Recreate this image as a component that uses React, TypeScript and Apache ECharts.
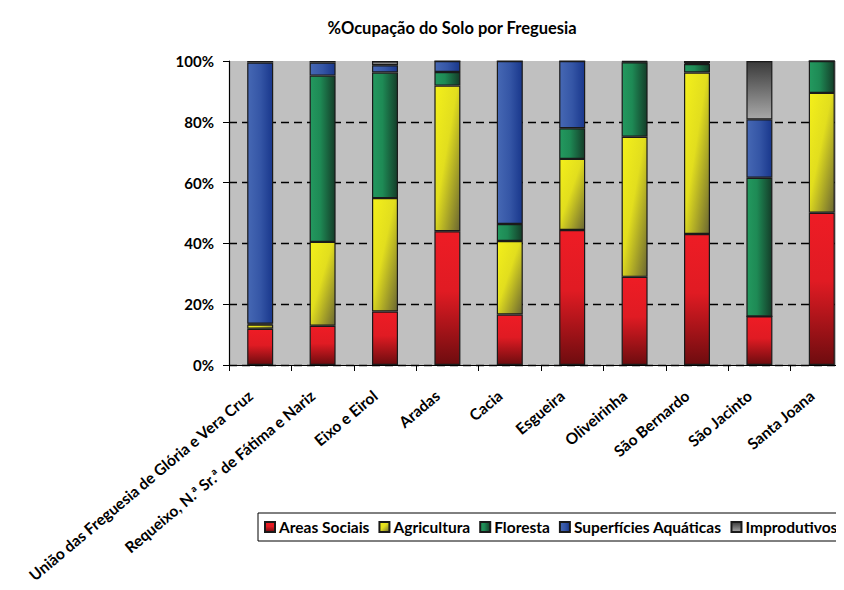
import React, { useEffect, useRef } from "react";
import * as echarts from "echarts";

const categories = [
  "União das Freguesia de Glória e Vera Cruz",
  "Requeixo, N.ª Sr.ª de Fátima e Nariz",
  "Eixo e Eirol",
  "Aradas",
  "Cacia",
  "Esgueira",
  "Oliveirinha",
  "São Bernardo",
  "São Jacinto",
  "Santa Joana",
];

const seriesNames = ["Areas Sociais", "Agricultura", "Floresta", "Superfícies Aquáticas", "Improdutivos"];

const areasSociais = [11.9, 12.9, 17.6, 44.0, 16.6, 44.4, 29.0, 43.1, 16.0, 50.1];
const agricultura = [1.4, 27.6, 37.3, 47.9, 24.2, 23.4, 46.1, 53.1, 0, 39.4];
const floresta = [0.3, 54.7, 41.3, 4.5, 5.6, 10.1, 24.5, 2.8, 45.6, 10.5];
const superficies = [85.9, 4.3, 2.4, 3.6, 53.6, 22.1, 0.2, 0.3, 19.2, 0];
const improdutivos = [0.5, 0.5, 1.4, 0, 0, 0, 0.2, 0.7, 19.2, 0];

const yTicks = [0, 20, 40, 60, 80, 100];

const FONT = "Lato";

export default function App() {
  const ref = useRef<HTMLDivElement>(null);
  useEffect(() => {
    if (!ref.current) return;
    const chart = echarts.init(ref.current, null, { renderer: "svg" });
    const G = echarts.graphic.LinearGradient;
    const fills = [
      new G(0, 0, 0, 1, [
        { offset: 0, color: "#EE1C25" },
        { offset: 0.45, color: "#E01B23" },
        { offset: 1, color: "#6E0C0F" },
      ]),
      new G(0, 0, 1, 1, [
        { offset: 0, color: "#F4F01A" },
        { offset: 0.45, color: "#E2DE1E" },
        { offset: 1, color: "#6A6632" },
      ]),
      new G(0, 0, 1, 0, [
        { offset: 0, color: "#23995F" },
        { offset: 0.4, color: "#1E8A55" },
        { offset: 1, color: "#143D29" },
      ]),
      new G(0, 0, 1, 0, [
        { offset: 0, color: "#4668B4" },
        { offset: 0.5, color: "#3556A6" },
        { offset: 1, color: "#19378C" },
      ]),
      new G(0, 0, 0, 1, [
        { offset: 0, color: "#3A3A3A" },
        { offset: 1, color: "#A8A8A8" },
      ]),
    ];
    const dataSets = [areasSociais, agricultura, floresta, superficies, improdutivos];
    chart.setOption({
      animation: false,
      title: {
        text: "%Ocupação do Solo por Freguesia",
        left: 447,
        textAlign: "center",
        top: 14,
        textStyle: { fontFamily: FONT, fontSize: 16.5, fontWeight: "bold", color: "#000" },
      },
      grid: {
        left: 229,
        right: -9,
        top: 61,
        bottom: 225,
        show: true,
        backgroundColor: "#C0C0C0",
        borderWidth: 0,
        containLabel: false,
        outerBoundsMode: "none",
      },
      legend: {
        data: seriesNames,
        left: 258,
        top: 513,
        width: 640,
        orient: "horizontal",
        backgroundColor: "#fff",
        borderColor: "#000",
        borderWidth: 1,
        padding: [6, 4, 6, 6],
        itemGap: 9,
        itemWidth: 10,
        itemHeight: 10,
        icon: "rect",
        textStyle: { fontFamily: FONT, fontSize: 15.5, fontWeight: "bold", color: "#000", padding: [0, 0, 0, -1] },
      },
      xAxis: {
        type: "category",
        data: categories,
        axisLine: { show: true, lineStyle: { color: "#000", width: 1.2 } },
        axisTick: { show: true, length: 6, lineStyle: { color: "#000" } },
        axisLabel: {
          rotate: 40,
          interval: 0,
          margin: 20,
          padding: [0, 13, 0, 0],
          fontFamily: FONT,
          fontSize: 15.5,
          fontWeight: "bold",
          color: "#000",
        },
        splitLine: { show: false },
      },
      yAxis: {
        type: "value",
        min: yTicks[0],
        max: yTicks[yTicks.length - 1],
        interval: 20,
        axisLine: { show: true, lineStyle: { color: "#000", width: 1.2 } },
        axisTick: { show: true, length: 6, lineStyle: { color: "#000" } },
        axisLabel: {
          formatter: (v: number) => v + "%",
          margin: 15,
          fontFamily: FONT,
          fontSize: 15,
          fontWeight: "bold",
          color: "#000",
        },
        splitLine: {
          show: true,
          showMaxLine: false,
          lineStyle: { color: "#000", type: [8, 5], width: 1.3 },
        },
      },
      series: dataSets.map((d, i) => ({
        name: seriesNames[i],
        type: "bar",
        stack: "total",
        data: d,
        barWidth: 26,
        itemStyle: { color: fills[i], borderColor: "#1a1a1a", borderWidth: 1.2 },
      })),
    });
    return () => chart.dispose();
  }, []);
  return <div ref={ref} style={{ width: 844, height: 590, marginLeft: -8, marginTop: -8 }} />;
}
